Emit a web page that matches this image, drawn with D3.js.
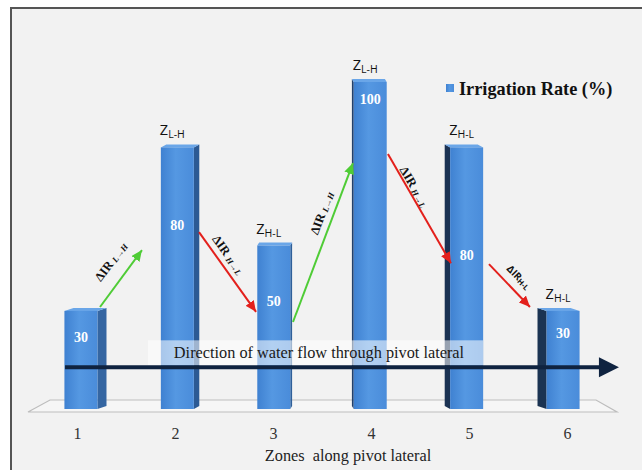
<!DOCTYPE html>
<html><head><meta charset="utf-8">
<script src="https://cdn.jsdelivr.net/npm/d3@7"></script>
<style>body{margin:0;background:#fff}svg{display:block}</style>
</head><body>
<svg id="c" width="642" height="470"></svg>
<script>
// ---- data ----
const zones = [1, 2, 3, 4, 5, 6];
const rates = [30, 80, 50, 100, 80, 30];
const zoneTags = [null, "L-H", "H-L", "L-H", "H-L", "H-L"];
const tickLabels = ["1", "2", "3", "4", "5", "6"];
const labelLevels = [22, 56, 33, 94.5, 47, 23];     // value level where each bar's number sits
const legendLabel = "Irrigation Rate (%)";
const xTitle = "Zones  along pivot lateral";
const flowText = "Direction of water flow through pivot lateral";
// change arrows in (zone, rate) space
const arrowFrom = [[1.235, 31.2], [2.245, 54.1], [3.204, 26.6], [4.173, 78.0], [5.204, 44.3]];
const arrowTo   = [[1.663, 48.6], [2.827, 29.7], [3.816, 75.2], [4.816, 44.6], [5.622, 31.2]];
const arrowKind = ["L→H", "H→L", "L→H", "H→L", "H-L"];
const arrowLabelAt = [[1.347, 45.0], [2.541, 47.1], [3.50, 59.9], [4.439, 67.9], [5.51, 40.4]];
const flowFrom = [0.878, 12.8], flowTo = [6.53, 12.8];

// ---- setup ----
const svg = d3.select("#c");
const x = d3.scaleLinear().domain([1, 6]).range([77, 567]);
const y = d3.scaleLinear().domain([0, 100]).range([409, 82]);
const vx = 322;              // perspective centre
const frontW = 33, depth = 3;

const defs = svg.append("defs");
const g1 = defs.append("linearGradient").attr("id", "front").attr("x1", 0).attr("x2", 1).attr("y1", 0).attr("y2", 0);
g1.append("stop").attr("offset", "0%").attr("stop-color", "#3f81d1");
g1.append("stop").attr("offset", "45%").attr("stop-color", "#5598e2");
g1.append("stop").attr("offset", "100%").attr("stop-color", "#4a8cda");
function marker(id, col, w, h) {
  defs.append("marker").attr("id", id).attr("markerUnits", "userSpaceOnUse")
    .attr("viewBox", `0 0 ${w} ${h}`).attr("refX", w).attr("refY", h / 2)
    .attr("markerWidth", w).attr("markerHeight", h).attr("orient", "auto")
    .append("path").attr("d", `M0,0L${w},${h / 2}L0,${h}Z`).attr("fill", col);
}
marker("mg", "#4fcc36", 11, 10);
marker("mr", "#e3201c", 11, 10);

// background frame
svg.append("rect").attr("x", 11).attr("y", 8).attr("width", 660).attr("height", 480)
  .attr("fill", "#f2f2f2").attr("stroke", "#555").attr("stroke-width", 2);

// floor
const fl = x(1) - 49, fr = x(6) + 50;
svg.append("path")
  .attr("d", `M${fl},${y(0) + 3}L${fr},${y(0) + 3}L${fr - 21},${y(0) - 9}L${fl + 22},${y(0) - 9}Z`)
  .attr("fill", "#f6f6f6").attr("stroke", "#bdbdbd").attr("stroke-width", 1.2);

// bars
const sideCols = ["#3566a2", "#2c5a94", "#2f5f99", "#22406a", "#1b3253", "#1b3352"];
const bars = svg.append("g");
zones.forEach((z, i) => {
  const cx = x(z) + (x(z) - vx) * -0.016;
  const xl = cx - frontW / 2, xr = cx + frontW / 2;
  const top = y(rates[i]), bot = y(0);
  const sw = Math.abs(x(z) - vx) * 0.037;
  const right = x(z) < vx;
  const g = bars.append("g");
  if (right) {
    g.append("path").attr("d", `M${xr},${top}L${xr + sw},${top - depth}L${xr + sw},${bot - depth}L${xr},${bot}Z`).attr("fill", sideCols[i]);
    g.append("path").attr("d", `M${xl},${top}L${xl + sw},${top - depth}L${xr + sw},${top - depth}L${xr},${top}Z`).attr("fill", "#6aa6e8");
  } else {
    g.append("path").attr("d", `M${xl},${top}L${xl - sw},${top - depth}L${xl - sw},${bot - depth}L${xl},${bot}Z`).attr("fill", sideCols[i]);
    g.append("path").attr("d", `M${xl},${top}L${xl - sw},${top - depth}L${xr - sw},${top - depth}L${xr},${top}Z`).attr("fill", "#6aa6e8");
  }
  g.append("rect").attr("x", xl).attr("y", top).attr("width", frontW).attr("height", bot - top).attr("fill", "url(#front)");
  // value label
  g.append("text").attr("x", cx).attr("y", y(labelLevels[i])).attr("text-anchor", "middle")
    .attr("dominant-baseline", "central").attr("fill", "#fff")
    .attr("font-family", "Liberation Serif, serif").attr("font-weight", "bold").attr("font-size", 14)
    .text(rates[i]);
  // zone tag
  if (zoneTags[i]) {
    const t = svg.append("text").attr("x", xl - 1).attr("y", top - 12)
      .attr("font-family", "Open Sans, sans-serif").attr("font-size", 14.5).attr("fill", "#111");
    t.append("tspan").text("Z");
    t.append("tspan").attr("font-size", 10.5).attr("dy", 3).text(zoneTags[i]);
  }
});

// flow text box, line and text
const boxL = 148, boxR = 483;
svg.append("rect").attr("x", boxL).attr("y", y(21)).attr("width", boxR - boxL).attr("height", 25)
  .attr("fill", "#ffffff").attr("opacity", 0.55);
svg.append("line").attr("x1", x(flowFrom[0])).attr("y1", y(flowFrom[1]))
  .attr("x2", x(flowTo[0]) - 18).attr("y2", y(flowTo[1]))
  .attr("stroke", "#0f2340").attr("stroke-width", 4);
svg.append("path")
  .attr("d", `M${x(flowTo[0])},${y(flowTo[1])}L${x(flowTo[0]) - 20},${y(flowTo[1]) - 10}L${x(flowTo[0]) - 20},${y(flowTo[1]) + 10}Z`)
  .attr("fill", "#0f2340");
svg.append("text").attr("x", 319).attr("y", y(21) + 18).attr("text-anchor", "middle")
  .attr("font-family", "Liberation Serif, serif").attr("font-size", 16.3).attr("fill", "#1a1a1a")
  .text(flowText);

// change arrows
arrowFrom.forEach((f, i) => {
  const t = arrowTo[i];
  const up = t[1] > f[1];
  const x1 = x(f[0]), y1 = y(f[1]), x2 = x(t[0]), y2 = y(t[1]);
  svg.append("line").attr("x1", x1).attr("y1", y1).attr("x2", x2).attr("y2", y2)
    .attr("stroke", up ? "#4fcc36" : "#e3201c").attr("stroke-width", 2)
    .attr("marker-end", up ? "url(#mg)" : "url(#mr)");
  const ang = Math.atan2(y2 - y1, x2 - x1) * 180 / Math.PI;
  const lx = x(arrowLabelAt[i][0]), ly = y(arrowLabelAt[i][1]);
  const sans = i === 4;
  const tx = svg.append("text").attr("transform", `translate(${lx},${ly}) rotate(${ang})`)
    .attr("text-anchor", "middle").attr("dominant-baseline", "central")
    .attr("font-family", sans ? "Open Sans, sans-serif" : "Liberation Serif, serif")
    .attr("font-weight", "bold").attr("font-size", sans ? 10 : 12.5).attr("fill", "#111");
  tx.append("tspan").text("ΔIR");
  tx.append("tspan").attr("font-size", sans ? 7.5 : 8.5).attr("font-style", sans ? "normal" : "italic").attr("dx", sans ? 0 : 3).attr("dy", 2).text(arrowKind[i]);
});

// x axis labels
const axis = d3.axisBottom(x).tickValues(zones).tickSize(0).tickFormat((d, i) => tickLabels[i]);
const ax = svg.append("g").attr("transform", `translate(0,${y(0) + 16})`).call(axis);
ax.select(".domain").remove();
ax.selectAll("text").attr("font-family", "Liberation Serif, serif").attr("font-size", 16).attr("fill", "#333");

svg.append("text").attr("x", (x(1) + x(6)) / 2 + 26).attr("y", 461).attr("text-anchor", "middle")
  .attr("xml:space", "preserve").style("white-space", "pre")
  .attr("font-family", "Liberation Serif, serif").attr("font-size", 16.3).attr("fill", "#222")
  .text(xTitle);

// legend
svg.append("rect").attr("x", 446).attr("y", 84).attr("width", 8).attr("height", 8).attr("fill", "url(#front)");
svg.append("text").attr("x", 459).attr("y", 94.5)
  .attr("font-family", "Liberation Serif, serif").attr("font-weight", "bold").attr("font-size", 18.3).attr("fill", "#111")
  .text(legendLabel);
</script>
</body></html>
